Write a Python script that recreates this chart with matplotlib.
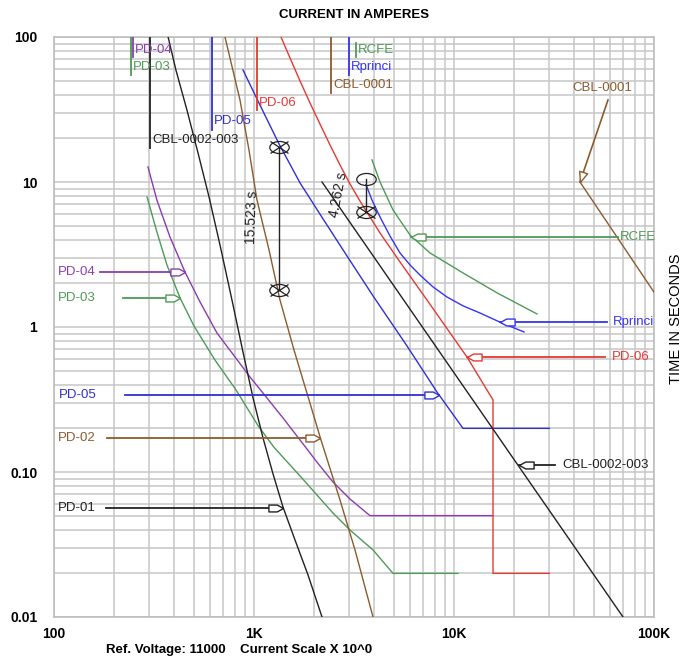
import numpy as np
import matplotlib
matplotlib.use('Agg')
import matplotlib.pyplot as plt
from matplotlib.path import Path
from matplotlib.markers import MarkerStyle
from matplotlib.transforms import Affine2D
from matplotlib.ticker import FixedLocator, NullFormatter, LogLocator

plt.rcParams['font.family'] = ['Liberation Sans', 'DejaVu Sans']

# ---------------- data (current in A, time in s) ----------------
pd04_I = [295, 327, 380, 452, 537, 653, 804, 955, 1161, 1396, 1700, 2065, 2483, 3020, 3800, 15670]
pd04_t = [12.7, 7.5, 4.18, 2.39, 1.49, 0.909, 0.621, 0.452, 0.324, 0.236, 0.166, 0.117, 0.0853, 0.0651, 0.05, 0.05]

pd03_I = [292, 327, 367, 427, 501, 638, 813, 1047, 1259, 1700, 2483, 3020, 3936, 4955, 10470]
pd03_t = [7.88, 4.52, 2.68, 1.585, 1.016, 0.592, 0.368, 0.209, 0.148, 0.0938, 0.0521, 0.0398, 0.029, 0.02, 0.02]

pd05_I = [881, 1047, 1334, 1700, 2265, 2917, 3936, 5821, 8222, 11090, 30000]
pd05_t = [59.2, 36.2, 18.3, 9.84, 5.30, 3.09, 1.64, 0.74, 0.356, 0.2, 0.2]

pd02_I = [716, 851, 944, 1035, 1189, 1349, 1585, 1884, 2163, 2692, 3199, 3936]
pd02_t = [100, 36.8, 16.6, 7.51, 3.40, 1.535, 0.694, 0.314, 0.166, 0.0641, 0.029, 0.01]

pd01_I = [372, 407, 462, 525, 596, 676, 776, 881, 989, 1109, 1245, 1396, 1603, 1862, 2188]
pd01_t = [100, 59.2, 31.4, 15.85, 7.88, 3.68, 1.535, 0.672, 0.324, 0.172, 0.0969, 0.0574, 0.034, 0.0195, 0.01]

pd06_I = [1365, 1514, 1700, 1905, 2138, 2399, 2692, 3020, 3388, 3802, 4266, 5370, 7328, 11610, 15670, 15670, 30000]
pd06_t = [100, 71.6, 49.7, 35.1, 25.1, 18.0, 13.1, 9.69, 7.39, 5.74, 4.45, 2.81, 1.535, 0.621, 0.314, 0.02, 0.02]

rprinci_I = [3631, 3890, 4266, 4786, 5370, 6026, 6761, 7852, 9226, 11090, 13490, 16980, 22390]
rprinci_t = [9.6, 7.51, 5.74, 4.24, 3.24, 2.68, 2.28, 1.89, 1.61, 1.40, 1.249, 1.08, 0.924]

rcfe_I = [3890, 4266, 4955, 6026, 7586, 11090, 16410, 26000]
rcfe_t = [14.2, 10, 6.41, 4.31, 3.24, 2.36, 1.72, 1.23]

cbl23_I = [2188, 70000]
cbl23_t = [10, 0.01]

cbl01_I = [42660, 100000]
cbl01_t = [10, 1.74]

# top "flag" labels: name, current, top/bottom time of flag line, time of text
flag_names = ['PD-04', 'PD-03', 'CBL-0002-003', 'PD-05', 'PD-06', 'CBL-0001', 'Rprinci', 'RCFE']
flag_I = [248, 243, 302, 617, 1035, 2427, 2985, 3236]
flag_top_t = [100, 100, 100, 100, 100, 100, 100, 90.9]
flag_bot_t = [72.8, 54.7, 17.2, 22.8, 31.4, 41.1, 54.7, 72.8]
flag_text_t = [81.3, 62.1, 19.5, 26.3, 35.1, 46.7, 62.1, 81.3]

# left side arrow labels
left_names = ['PD-04', 'PD-03', 'PD-05', 'PD-02', 'PD-01']
left_text_I = [104, 104, 106, 104, 104]
left_t = [2.39, 1.585, 0.34, 0.172, 0.0565]
left_line_I = [170, 221, 226, 184, 182]
left_tip_I = [452, 427, 8400, 2138, 1396]

# right side arrow labels
right_names = ['RCFE', 'Rprinci', 'PD-06', 'CBL-0002-003']
right_text_I = [67600, 62370, 61660, 34670]
right_t = [4.18, 1.08, 0.621, 0.1117]
right_line_I = [66070, 58210, 56890, 31990]
right_tip_I = [6095, 16980, 11610, 21130]

# CBL-0001 pointer
cbl01_label_I, cbl01_label_t = 54950, 44.5
cbl01_ptr_I = [58884, 42660]
cbl01_ptr_t = [36.8, 10]

# time-interval markers
mark1_I, mark1_t = [1334, 1334], [17.33, 1.81]
mark2_I, mark2_t = [3631, 3631], [10.5, 6.24]
int1_text, int1_I, int1_t = '15.523 s', 977, 5.69
int2_text, int2_I, int2_t = '4.262 s', 2630, 8.13

x_ticks = [100, 1000, 10000, 100000]
x_labels = ['100', '1K', '10K', '100K']
y_ticks = [0.01, 0.1, 1, 10, 100]
y_labels = ['0.01', '0.10', '1', '10', '100']

# ---------------- colours ----------------
PURPLE = '#8B3DAF'
GREEN = '#4E9A57'
BLUE5 = '#3030D0'
BLUER = '#3535F0'
RED = '#E53935'
BROWN = '#8C5B2E'
BLACK = '#222222'

color_of = {'PD-04': PURPLE, 'PD-03': GREEN, 'PD-05': BLUE5, 'PD-02': BROWN,
            'PD-01': BLACK, 'PD-06': RED, 'Rprinci': BLUER, 'RCFE': GREEN,
            'CBL-0002-003': BLACK, 'CBL-0001': BROWN}

fig = plt.figure(figsize=(6.94, 6.63), dpi=100)
ax = fig.add_axes([54 / 694, 46 / 663, 600 / 694, 580 / 663])
ax.set_xscale('log')
ax.set_yscale('log')
ax.set_xlim(100, 100000)
ax.set_ylim(0.01, 100)

ax.xaxis.set_major_locator(FixedLocator(x_ticks))
ax.set_xticklabels(x_labels)
ax.yaxis.set_major_locator(FixedLocator(y_ticks))
ax.set_yticklabels(y_labels)
ax.xaxis.set_minor_locator(LogLocator(base=10, subs=np.arange(2, 10), numticks=20))
ax.yaxis.set_minor_locator(LogLocator(base=10, subs=np.arange(2, 10), numticks=20))
ax.xaxis.set_minor_formatter(NullFormatter())
ax.yaxis.set_minor_formatter(NullFormatter())
ax.grid(which='both', color='#c6c6c6', lw=1.1)
ax.set_axisbelow(True)
for s in ax.spines.values():
    s.set_color('#bbbbbb')
    s.set_linewidth(1.1)
ax.tick_params(which='both', length=0)
ax.tick_params(axis='x', pad=7)
ax.tick_params(axis='y', pad=12)
for lab in ax.get_xticklabels() + ax.get_yticklabels():
    lab.set_fontsize(10)
    lab.set_fontweight('bold')

LW = 1.0
curves = [(pd04_I, pd04_t, PURPLE), (pd03_I, pd03_t, GREEN), (pd05_I, pd05_t, BLUE5),
          (pd02_I, pd02_t, BROWN), (pd01_I, pd01_t, BLACK), (pd06_I, pd06_t, RED),
          (rprinci_I, rprinci_t, BLUER), (rcfe_I, rcfe_t, GREEN),
          (cbl23_I, cbl23_t, BLACK), (cbl01_I, cbl01_t, BROWN)]
for I, t, c in curves:
    ax.plot(I, t, color=c, lw=LW, zorder=3, solid_joinstyle='round')

# top flags
for name, I, t0, t1, tt in zip(flag_names, flag_I, flag_top_t, flag_bot_t, flag_text_t):
    c = color_of[name]
    ax.plot([I, I], [t0, t1], color=c, lw=1.3, zorder=3)
    ax.annotate(name, (I, tt), xytext=(1.5, 0), textcoords='offset points',
                color=c, fontsize=9.5, va='center', ha='left', zorder=6)

# arrow marker (tip at origin, pointing right)
arrow_path = Path([(-14, -3.3), (-6, -3.3), (0, 0), (-6, 3.3), (-14, 3.3), (-14, -3.3)],
                  [Path.MOVETO, Path.LINETO, Path.LINETO, Path.LINETO, Path.LINETO, Path.CLOSEPOLY])
arrow_right = MarkerStyle(arrow_path)
arrow_left = MarkerStyle(arrow_path, transform=Affine2D().rotate_deg(180))
AMS = 21

for name, tx, t, l0, tip in zip(left_names, left_text_I, left_t, left_line_I, left_tip_I):
    c = color_of[name]
    ax.text(tx, t, name, color=c, fontsize=9.5, va='center', ha='left', zorder=6)
    ax.plot([l0, tip], [t, t], color=c, lw=1.3, zorder=4)
    ax.plot([tip], [t], ls='none', marker=arrow_right, ms=AMS, mfc='white', mec=c, mew=1.0, zorder=5)

for name, tx, t, l1, tip in zip(right_names, right_text_I, right_t, right_line_I, right_tip_I):
    c = color_of[name]
    ax.text(tx, t, name, color=c, fontsize=9.5, va='center', ha='left', zorder=6, clip_on=False)
    ax.plot([tip, l1], [t, t], color=c, lw=1.3, zorder=4)
    ax.plot([tip], [t], ls='none', marker=arrow_left, ms=AMS, mfc='white', mec=c, mew=1.0, zorder=5)

# CBL-0001 pointer
ax.text(cbl01_label_I, cbl01_label_t, 'CBL-0001', color=BROWN, fontsize=9.5,
        va='center', ha='center', zorder=6)
ax.plot(cbl01_ptr_I, cbl01_ptr_t, color=BROWN, lw=1.2, zorder=4)
tri_path = Path([(-10, -4), (0, 0), (-10, 4), (-10, -4)],
                [Path.MOVETO, Path.LINETO, Path.LINETO, Path.CLOSEPOLY])
ptr_rot = MarkerStyle(tri_path, transform=Affine2D().rotate_deg(-107.5))
ax.plot([cbl01_ptr_I[1]], [cbl01_ptr_t[1]], ls='none', marker=ptr_rot, ms=15,
        mfc='white', mec=BROWN, mew=1.0, zorder=5)

# interval markers
ell = MarkerStyle('o', transform=Affine2D().scale(1, 0.62))
xm = MarkerStyle('x', transform=Affine2D().scale(1.05, 0.75))
ax.plot(mark1_I, mark1_t, color=BLACK, lw=1.0, zorder=4)
ax.plot(mark1_I, mark1_t, ls='none', marker=ell, ms=14, mfc='none', mec=BLACK, mew=0.9, zorder=5)
ax.plot(mark1_I, mark1_t, ls='none', marker=xm, ms=12, mec=BLACK, mew=0.9, zorder=5)
ax.plot(mark2_I, mark2_t, color=BLACK, lw=1.0, zorder=4)
ax.plot(mark2_I, mark2_t, ls='none', marker=ell, ms=14, mfc='none', mec=BLACK, mew=0.9, zorder=5)
ax.plot([mark2_I[1]], [mark2_t[1]], ls='none', marker=xm, ms=12, mec=BLACK, mew=0.9, zorder=5)
ax.text(int1_I, int1_t, int1_text, rotation=88, fontsize=10, color=BLACK,
        ha='center', va='center', rotation_mode='anchor', zorder=6)
ax.text(int2_I, int2_t, int2_text, rotation=79, fontsize=10, color=BLACK,
        ha='center', va='center', rotation_mode='anchor', zorder=6)

# titles
fig.text(354 / 694, 1 - 15 / 663, 'CURRENT IN AMPERES', ha='center', va='center',
         fontsize=9.5, fontweight='bold')
fig.text(676 / 694, 1 - 319 / 663, 'TIME IN SECONDS', ha='center', va='center',
         rotation=90, fontsize=10.5)
fig.text(106 / 694, 1 - 650 / 663, 'Ref. Voltage: 11000    Current Scale X 10^0',
         ha='left', va='center', fontsize=9.5, fontweight='bold')

fig.savefig('out.png', dpi=100, facecolor='white')
